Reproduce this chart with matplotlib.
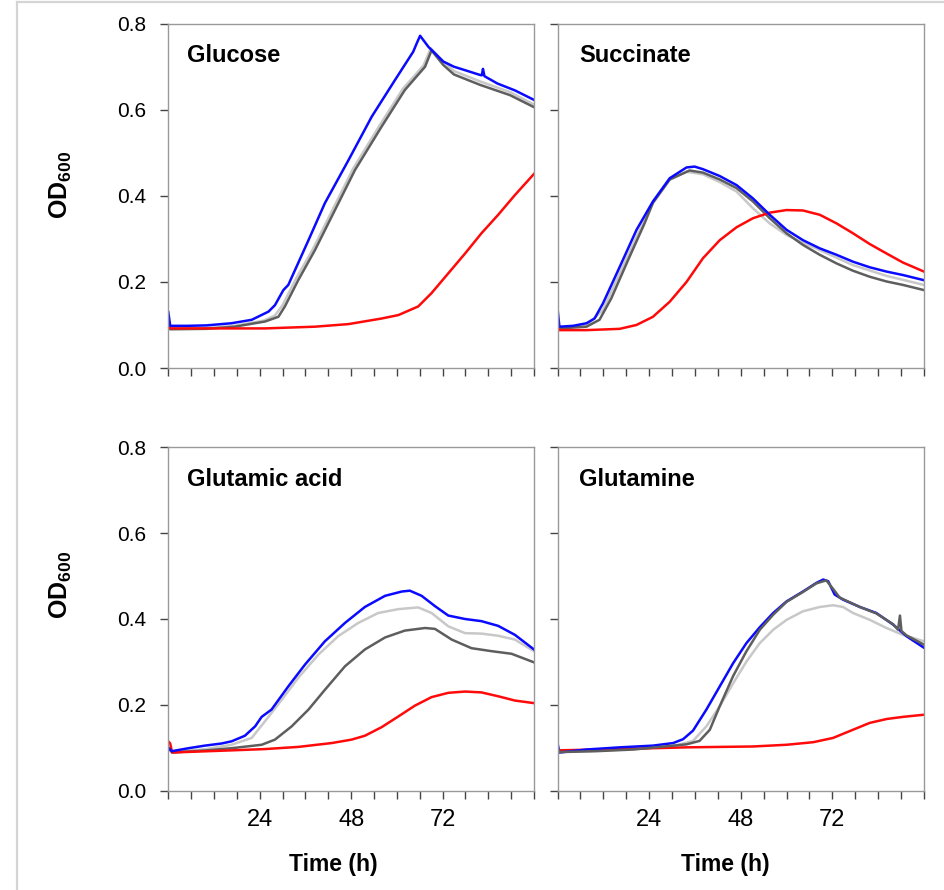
import matplotlib
matplotlib.use("Agg")
import matplotlib.pyplot as plt
from matplotlib.lines import Line2D

# ---- data (time in h, OD600) ----
# Glucose
glc_blue_t = [0, 0.5, 5, 10, 16.6, 21.9, 26.3, 28, 30.2, 31.5, 36.8, 41.1, 47.3, 53.4, 59.5, 64.3, 65.2, 66.1,
              68.3, 72.2, 75.0, 77.9, 81.8, 82.3, 82.6, 83.0, 86.4, 91.0, 96]
glc_blue = [0.13, 0.098, 0.098, 0.099, 0.104, 0.112, 0.131, 0.146, 0.181, 0.193, 0.297, 0.383, 0.483, 0.584, 0.669,
            0.735, 0.754, 0.772, 0.746, 0.712, 0.70, 0.692, 0.681, 0.680, 0.695, 0.678, 0.661, 0.645, 0.623]
glc_dgray_t = [0, 0.5, 10, 17.4, 25.4, 28.9, 30.6, 34.1, 38.5, 42.9, 49, 56, 62.1, 67.4, 69.1, 72.2, 75.0, 81.8, 89.7, 96]
glc_dgray = [0.11, 0.09, 0.091, 0.096, 0.108, 0.119, 0.143, 0.204, 0.274, 0.352, 0.46, 0.561, 0.646, 0.70, 0.738,
             0.704, 0.682, 0.658, 0.634, 0.606]
glc_lgray_t = [0, 0.5, 10, 17.4, 25, 28, 30, 33.5, 38, 42.4, 48.5, 55.5, 61.6, 67, 68.9, 72.2, 75.0, 81.8, 89.7, 96]
glc_lgray = [0.11, 0.092, 0.093, 0.098, 0.11, 0.122, 0.146, 0.207, 0.277, 0.355, 0.463, 0.564, 0.649, 0.703, 0.743,
             0.712, 0.69, 0.666, 0.641, 0.612]
glc_red_t = [0, 0.5, 10, 25.4, 38.5, 47.3, 56, 60.4, 65.6, 69.1, 73.5, 77.9, 82.2, 86.6, 91, 96]
glc_red = [0.10, 0.092, 0.092, 0.092, 0.096, 0.102, 0.115, 0.123, 0.143, 0.174, 0.22, 0.266, 0.313, 0.356, 0.402, 0.451]

# Succinate
suc_blue_t = [0, 0.5, 4.1, 7.6, 9.7, 11.9, 16.3, 20.7, 25.0, 29.4, 33.8, 35.9, 38.1, 42.5, 46.9, 51.2, 55.6, 60.0,
              64.3, 68.7, 73.1, 77.4, 81.8, 86.2, 90.5, 96]
suc_blue = [0.139, 0.096, 0.098, 0.104, 0.115, 0.15, 0.235, 0.321, 0.387, 0.441, 0.466, 0.468, 0.462, 0.446, 0.425,
            0.394, 0.356, 0.321, 0.297, 0.278, 0.263, 0.247, 0.234, 0.224, 0.216, 0.204]
suc_dgray_t = [0, 0.5, 7.6, 11.0, 14.1, 18.5, 22.8, 25.0, 29.4, 34.6, 38.1, 42.5, 46.9, 51.2, 55.6, 60.0, 64.3, 68.7,
               73.1, 77.4, 81.8, 86.2, 90.5, 96]
suc_dgray = [0.11, 0.092, 0.096, 0.112, 0.162, 0.251, 0.336, 0.384, 0.438, 0.459, 0.454, 0.438, 0.418, 0.387, 0.348,
             0.313, 0.286, 0.263, 0.243, 0.226, 0.212, 0.201, 0.193, 0.181]
suc_lgray_t = [0, 0.5, 7.6, 11.9, 16.3, 20.7, 25.0, 29.4, 33.8, 38.1, 42.5, 46.9, 51.2, 55.6, 60.0, 64.3, 68.7, 77.4,
               86.2, 96]
suc_lgray = [0.11, 0.094, 0.098, 0.135, 0.22, 0.305, 0.383, 0.438, 0.456, 0.45, 0.432, 0.41, 0.371, 0.336, 0.309,
             0.291, 0.274, 0.239, 0.214, 0.193]
suc_red_t = [0, 0.5, 7.6, 16.3, 20.7, 25.0, 29.4, 33.8, 38.1, 42.5, 46.9, 51.2, 55.6, 60.0, 64.3, 68.7, 73.1, 77.4,
             81.8, 86.2, 90.5, 96]
suc_red = [0.105, 0.088, 0.088, 0.091, 0.10, 0.119, 0.154, 0.2, 0.255, 0.297, 0.327, 0.348, 0.361, 0.367, 0.366,
           0.356, 0.336, 0.313, 0.288, 0.266, 0.245, 0.224]

# Glutamic acid
glu_blue_t = [0, 0.9, 5.3, 9.6, 14.0, 16.6, 20.1, 22.8, 24.5, 27.1, 31.5, 35.9, 41.1, 46.4, 51.6, 56.9, 61.3, 63.4,
              66.5, 70.0, 73.5, 77.9, 82.2, 86.6, 91.0, 96]
glu_blue = [0.10, 0.092, 0.099, 0.105, 0.11, 0.115, 0.128, 0.15, 0.172, 0.189, 0.243, 0.294, 0.348, 0.391, 0.428,
            0.454, 0.464, 0.466, 0.454, 0.43, 0.408, 0.40, 0.395, 0.384, 0.363, 0.329]
glu_lgray_t = [0, 1, 10, 16.6, 21.9, 25.4, 29.8, 34.1, 39.4, 44.6, 49.9, 55.1, 60.4, 65.6, 69.1, 73.5, 77.9, 82.2,
               86.6, 91.0, 96]
glu_lgray = [0.10, 0.09, 0.097, 0.107, 0.123, 0.162, 0.212, 0.263, 0.317, 0.36, 0.391, 0.414, 0.423, 0.427, 0.414,
             0.383, 0.367, 0.366, 0.361, 0.352, 0.325]
glu_dgray_t = [0, 1, 10, 16.6, 24.5, 28.0, 32.4, 36.8, 41.1, 46.4, 51.6, 56.9, 62.1, 67.4, 70.0, 74.4, 79.6, 84.9,
               90.1, 96]
glu_dgray = [0.10, 0.089, 0.094, 0.099, 0.107, 0.119, 0.15, 0.189, 0.235, 0.29, 0.329, 0.357, 0.373, 0.379, 0.377,
             0.352, 0.332, 0.325, 0.319, 0.299]
glu_red_t = [0, 0.5, 1, 16.6, 25.4, 34.1, 42.9, 48.1, 51.6, 56.0, 60.4, 64.7, 69.1, 73.5, 77.9, 82.2, 86.6, 91.0, 96]
glu_red = [0.115, 0.11, 0.089, 0.094, 0.097, 0.102, 0.111, 0.119, 0.128, 0.148, 0.173, 0.198, 0.218, 0.228, 0.231,
           0.229, 0.22, 0.21, 0.204]

# Glutamine
gln_blue_t = [0, 0.5, 7.6, 16.3, 25.0, 30.3, 32.9, 35.5, 39.0, 42.5, 46.0, 49.5, 53.0, 56.5, 60.0, 64.3, 67.8, 69.6,
              70.9, 72.6, 74.8, 79.2, 83.5, 87.9, 91.4, 96]
gln_blue = [0.111, 0.089, 0.096, 0.101, 0.105, 0.111, 0.12, 0.14, 0.189, 0.243, 0.297, 0.344, 0.381, 0.414, 0.441,
            0.464, 0.484, 0.492, 0.488, 0.457, 0.445, 0.428, 0.414, 0.387, 0.36, 0.333]
gln_dgray_t = [0, 0.5, 10, 20, 33.8, 37.2, 39.9, 42.5, 46.0, 49.5, 53.0, 56.5, 60.0, 64.3, 67.8, 70.4, 72.2, 73.9,
               79.2, 83.5, 87.9, 89.2, 89.7, 90.1, 91.4, 96]
gln_dgray = [0.10, 0.09, 0.092, 0.096, 0.108, 0.116, 0.142, 0.197, 0.267, 0.325, 0.375, 0.41, 0.44, 0.463, 0.483,
             0.49, 0.47, 0.45, 0.428, 0.413, 0.388, 0.375, 0.408, 0.372, 0.362, 0.34]
gln_lgray_t = [0, 0.5, 10, 20, 30, 35.5, 39.0, 42.5, 46.0, 49.5, 53.0, 56.5, 60.0, 64.3, 68.7, 72.2, 74.8, 77.4,
               81.8, 86.2, 90.5, 96]
gln_lgray = [0.10, 0.09, 0.093, 0.097, 0.103, 0.116, 0.15, 0.197, 0.25, 0.301, 0.344, 0.375, 0.398, 0.418, 0.428,
             0.432, 0.428, 0.414, 0.398, 0.379, 0.363, 0.348]
gln_red_t = [0, 16.3, 33.8, 51.2, 60.0, 67.0, 72.2, 77.4, 81.8, 86.2, 90.5, 96]
gln_red = [0.094, 0.097, 0.101, 0.103, 0.107, 0.113, 0.123, 0.142, 0.158, 0.167, 0.172, 0.177]

panel_titles = ["Glucose", "Succinate", "Glutamic acid", "Glutamine"]
xticks = list(range(0, 97, 6))
xtick_shown = [24, 48, 72]
yticks = [0.0, 0.2, 0.4, 0.6, 0.8]

# colours
C_LGRAY = "#c8c8c8"
C_DGRAY = "#5e5e5e"
C_RED = "#ff0a0a"
C_BLUE = "#0a0aff"

FONT = "Liberation Sans"
plt.rcParams["font.family"] = FONT
plt.rcParams["mathtext.fontset"] = "custom"
plt.rcParams["mathtext.bf"] = "Liberation Sans:bold"
plt.rcParams["mathtext.rm"] = "Liberation Sans"

W, H = 945, 890
fig = plt.figure(figsize=(W / 100, H / 100), dpi=100)

# axes boxes in pixels: left, top, right, bottom
boxes = [(168.3, 23.7, 534.0, 368.0), (557.5, 23.7, 924.0, 368.0),
         (168.3, 447.3, 534.0, 790.7), (557.5, 447.3, 924.0, 790.7)]


def draw_panel(ax, title, curves, show_y, show_x):
    for t, v, c in curves:
        ax.plot(t, v, color=c, lw=1.8, solid_joinstyle="round")
    ax.set_xlim(0, 96)
    ax.set_ylim(0, 0.8)
    ax.set_xticks(xticks)
    ax.set_xticklabels([str(t) if (show_x and t in xtick_shown) else "" for t in xticks], fontsize=17)
    ax.set_yticks(yticks)
    if show_y:
        ax.set_yticklabels(["%.1f" % y for y in yticks], fontsize=15)
    else:
        ax.set_yticklabels([])
    ax.tick_params(direction="out", length=6, width=1, color="#444444", pad=7)
    ax.tick_params(axis="y", pad=10)
    for s in ax.spines.values():
        s.set_color("#999999")
        s.set_linewidth(1.0)
    ax.text(0.05 if show_y else 0.059, 0.888, title, transform=ax.transAxes,
            fontweight="bold", fontsize=17, va="baseline", ha="left")


series = [
    [(glc_lgray_t, glc_lgray, C_LGRAY), (glc_dgray_t, glc_dgray, C_DGRAY), (glc_red_t, glc_red, C_RED),
     (glc_blue_t, glc_blue, C_BLUE)],
    [(suc_lgray_t, suc_lgray, C_LGRAY), (suc_dgray_t, suc_dgray, C_DGRAY), (suc_red_t, suc_red, C_RED),
     (suc_blue_t, suc_blue, C_BLUE)],
    [(glu_lgray_t, glu_lgray, C_LGRAY), (glu_dgray_t, glu_dgray, C_DGRAY), (glu_red_t, glu_red, C_RED),
     (glu_blue_t, glu_blue, C_BLUE)],
    [(gln_lgray_t, gln_lgray, C_LGRAY), (gln_red_t, gln_red, C_RED), (gln_blue_t, gln_blue, C_BLUE),
     (gln_dgray_t, gln_dgray, C_DGRAY)],
]

for i, (l, t, r, b) in enumerate(boxes):
    ax = fig.add_axes([l / W, 1 - b / H, (r - l) / W, (b - t) / H])
    draw_panel(ax, panel_titles[i], series[i], show_y=(i % 2 == 0), show_x=(i >= 2))

# y labels and x labels
for yc in (184.5, 585.0):
    fig.text(61 / W, 1 - yc / H, r"$\mathbf{OD_{600}}$", rotation=90, ha="center", va="center", fontsize=18)
for xc in (333.0, 725.0):
    fig.text(xc / W, 1 - 864 / H, "Time (h)", fontweight="bold", fontsize=16.5,
             ha="center", va="center")

# light frame on the left and top edges
fig.add_artist(Line2D([17 / W, 17 / W], [0, 1 - 2 / H], color="#d4d4d4", lw=1.6))
fig.add_artist(Line2D([17 / W, 1], [1 - 2 / H, 1 - 2 / H], color="#d4d4d4", lw=1.6))

fig.savefig("out.png", dpi=100)
